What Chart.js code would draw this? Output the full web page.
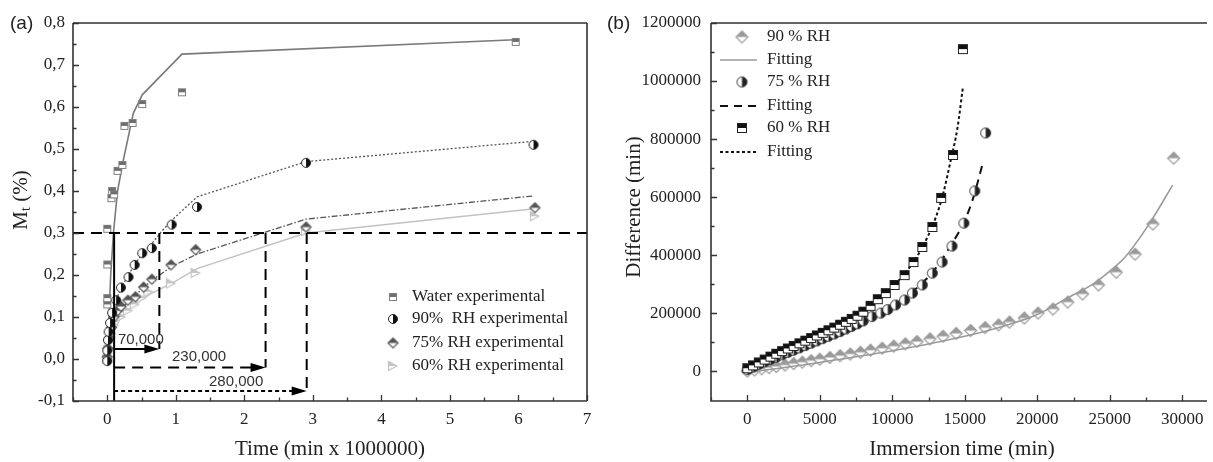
<!DOCTYPE html>
<html>
<head>
<meta charset="utf-8">
<script src="https://cdn.jsdelivr.net/npm/chart.js@4.4.0/dist/chart.umd.min.js"></script>
<style>
html, body { margin: 0; padding: 0; background: #fff; }
#wrap { position: relative; width: 1213px; height: 462px; overflow: hidden; }
canvas { position: absolute; top: 0; }
#chartA { left: 0; }
#chartB { left: 600px; }
</style>
</head>
<body>
<div id="wrap">
  <canvas id="chartA" width="600" height="462"></canvas>
  <canvas id="chartB" width="613" height="462"></canvas>
</div>
<script>
// ---------- Panel (a): uptake M_t (%) vs time (min x 1000000) ----------
const waterT = [0, 0, 0, 0, 0.06, 0.07, 0.1, 0.15, 0.22, 0.25, 0.37, 0.51, 1.09, 5.96];
const waterM = [0.13, 0.145, 0.225, 0.31, 0.383, 0.40, 0.392, 0.448, 0.462, 0.555, 0.562, 0.607, 0.635, 0.755];
const waterFitT = [0, 0.05, 0.09, 0.15, 0.235, 0.38, 0.51, 1.09, 5.95];
const waterFitM = [0, 0.2, 0.3, 0.4, 0.474, 0.585, 0.629, 0.726, 0.76];

const rh90T = [0, 0, 0.01, 0.02, 0.04, 0.07, 0.13, 0.2, 0.31, 0.4, 0.51, 0.65, 0.94, 1.31, 2.9, 6.22];
const rh90M = [-0.005, 0.02, 0.045, 0.065, 0.086, 0.11, 0.14, 0.17, 0.195, 0.224, 0.252, 0.264, 0.32, 0.362, 0.467, 0.51];
const rh90FitT = [0, 0.05, 0.13, 0.2, 0.31, 0.4, 0.51, 0.65, 0.8, 0.94, 1.31, 2.9, 6.2];
const rh90FitM = [0, 0.09, 0.14, 0.17, 0.2, 0.225, 0.25, 0.275, 0.305, 0.33, 0.386, 0.47, 0.518];

const rh75T = [0, 0.01, 0.03, 0.06, 0.1, 0.15, 0.2, 0.3, 0.41, 0.53, 0.65, 0.93, 1.29, 2.9, 6.24];
const rh75M = [0.005, 0.025, 0.05, 0.075, 0.1, 0.115, 0.125, 0.14, 0.148, 0.171, 0.19, 0.224, 0.26, 0.314, 0.36];
const rh75FitT = [0, 0.05, 0.2, 0.43, 0.63, 0.94, 1.31, 2.9, 6.2];
const rh75FitM = [0, 0.07, 0.12, 0.155, 0.185, 0.22, 0.25, 0.333, 0.388];

const rh60T = [0, 0.01, 0.03, 0.06, 0.1, 0.2, 0.3, 0.4, 0.5, 0.6, 0.93, 1.29, 2.9, 6.24];
const rh60M = [0.0, 0.02, 0.04, 0.06, 0.08, 0.1, 0.115, 0.13, 0.145, 0.16, 0.18, 0.205, 0.305, 0.34];
const rh60FitT = [0, 0.05, 0.2, 0.4, 0.63, 0.94, 1.31, 2.9, 6.2];
const rh60FitM = [0, 0.05, 0.1, 0.13, 0.155, 0.18, 0.215, 0.3, 0.357];

const aXMajor = [0, 1, 2, 3, 4, 5, 6, 7];
const aXMinor = [-0.5, 0.5, 1.5, 2.5, 3.5, 4.5, 5.5, 6.5];
const aYMajor = [-0.1, 0, 0.1, 0.2, 0.3, 0.4, 0.5, 0.6, 0.7, 0.8];
const aYMinor = [-0.05, 0.05, 0.15, 0.25, 0.35, 0.45, 0.55, 0.65, 0.75];

// threshold construction (M_t = 0,3)
const thresholdM = 0.3;
const startT = 0.1;
const reachT = [0.76, 2.31, 2.91];
const arrowM = [0.024, -0.02, -0.076];
const reachLabels = ['70,000', '230,000', '280,000'];
const reachLabelT = [0.49, 1.34, 1.88];
const reachLabelM = [0.045, 0.005, -0.055];

const aLegendLabels = ['Water experimental', '90%  RH experimental', '75% RH experimental', '60% RH experimental'];

// ---------- Panel (b): difference (min) vs immersion time (min) ----------
const rh90bT = [0, 500, 1000, 1500, 2000, 2600, 3200, 3800, 4400, 5000, 5700, 6400, 7100, 7800, 8500, 9300, 10100,
  10900, 11700, 12600, 13500, 14400, 15400, 16400, 17330, 18080, 19100, 20050, 21080, 22100, 23120, 24220, 25440,
  26740, 27970, 29400];
const rh90bD = [0, 4000, 8000, 12000, 16000, 21000, 26000, 31000, 36000, 41000, 47000, 53000, 59000, 65000, 72000,
  79000, 86000, 94000, 102000, 111000, 120000, 130000, 140000, 150000, 159000, 169000, 183000, 200000, 214000,
  238000, 266000, 297000, 341000, 403000, 507000, 734000];
const rh90bFitT = [0, 5000, 10000, 15000, 18000, 20000, 22000, 24000, 25000, 26000, 27000, 28000, 29330];
const rh90bFitD = [-5000, 30000, 70000, 120000, 160000, 195000, 250000, 305000, 345000, 390000, 455000, 530000, 641000];

const rh75bT = [0, 400, 800, 1200, 1600, 2000, 2400, 2800, 3200, 3600, 4000, 4400, 4800, 5200, 5600, 6000, 6400,
  6800, 7200, 7600, 8000, 8600, 9210, 9690, 10230, 10850, 11390, 12070, 12760, 13440, 14120, 14940, 15690, 16440];
const rh75bD = [5000, 14000, 23000, 32000, 40000, 48000, 56000, 64000, 72000, 80000, 88000, 96000, 104000, 112000,
  120000, 128000, 136000, 145000, 154000, 163000, 173000, 188000, 200000, 212000, 228000, 245000, 269000, 297000,
  338000, 376000, 431000, 510000, 621000, 821000];
const rh75bFitT = [0, 2000, 4000, 6000, 8000, 10000, 11000, 12000, 13000, 14000, 15000, 15600, 16240];
const rh75bFitD = [0, 45000, 90000, 130000, 175000, 225000, 260000, 300000, 355000, 430000, 520000, 600000, 717000];

const rh60bT = [0, 400, 800, 1200, 1600, 2000, 2400, 2800, 3200, 3600, 4000, 4400, 4800, 5200, 5600, 6000, 6400,
  6800, 7200, 7600, 8000, 8500, 9000, 9550, 10160, 10850, 11460, 12070, 12760, 13370, 14190, 14870];
const rh60bD = [10000, 20000, 30000, 40000, 50000, 60000, 69000, 78000, 87000, 96000, 105000, 114000, 123000, 132000,
  141000, 150000, 160000, 170000, 180000, 191000, 205000, 225000, 248000, 269000, 297000, 331000, 376000, 428000,
  497000, 597000, 745000, 1110000];
const rh60bFitT = [0, 2000, 4000, 6000, 8000, 9000, 10000, 11000, 12000, 13000, 13500, 14000, 14500, 14870];
const rh60bFitD = [5000, 55000, 100000, 148000, 205000, 243000, 290000, 345000, 420000, 530000, 610000, 720000, 840000, 979000];

const bXMajor = [0, 5000, 10000, 15000, 20000, 25000, 30000];
const bXMinor = [-2500, 2500, 7500, 12500, 17500, 22500, 27500];
const bYMajor = [0, 200000, 400000, 600000, 800000, 1000000, 1200000];
const bYMinor = [100000, 300000, 500000, 700000, 900000, 1100000];

const bLegendLabels = ['90 % RH', 'Fitting', '75 % RH', 'Fitting', '60 % RH', 'Fitting'];

// ---------- helpers ----------
Chart.defaults.font.family = 'Liberation Serif';
Chart.defaults.color = '#222';

function pts(xs, ys) {
  return xs.map((x, i) => ({ x: x, y: ys[i] }));
}

function makeMarker(size, draw) {
  const c = document.createElement('canvas');
  c.width = size + 2;
  c.height = size + 2;
  draw(c.getContext('2d'), size);
  return c;
}

function halfSquare(size, fill, stroke) {
  return makeMarker(size, (g, s) => {
    g.fillStyle = '#fff';
    g.fillRect(1, 1, s, s);
    g.fillStyle = fill;
    g.fillRect(1, 1, s, s / 2);
    g.strokeStyle = stroke;
    g.lineWidth = 1;
    g.strokeRect(1.5, 1.5, s - 1, s - 1);
  });
}

function halfCircle(size, fill, stroke) {
  return makeMarker(size, (g, s) => {
    const c = s / 2 + 1, r = s / 2 - 0.5;
    g.beginPath(); g.arc(c, c, r, 0, Math.PI * 2);
    g.fillStyle = '#fff'; g.fill();
    g.beginPath(); g.moveTo(c, c - r); g.arc(c, c, r, -Math.PI / 2, Math.PI / 2); g.closePath();
    g.fillStyle = fill; g.fill();
    g.beginPath(); g.arc(c, c, r, 0, Math.PI * 2);
    g.strokeStyle = stroke; g.lineWidth = 1; g.stroke();
  });
}

function halfDiamond(size, fill, stroke) {
  return makeMarker(size, (g, s) => {
    const c = s / 2 + 1, r = s / 2 - 0.5;
    g.beginPath(); g.moveTo(c, c - r); g.lineTo(c + r, c); g.lineTo(c, c + r); g.lineTo(c - r, c); g.closePath();
    g.fillStyle = '#fff'; g.fill();
    g.strokeStyle = stroke; g.lineWidth = 1.2; g.stroke();
    g.beginPath(); g.moveTo(c, c - r); g.lineTo(c + r, c); g.lineTo(c - r, c); g.closePath();
    g.fillStyle = fill; g.fill();
  });
}

function halfTriangle(size, fill, stroke) {
  return makeMarker(size, (g, s) => {
    const c = s / 2 + 1;
    g.beginPath(); g.moveTo(1.5, 1.5); g.lineTo(s, c); g.lineTo(1.5, s + 0.5); g.closePath();
    g.fillStyle = '#fff'; g.fill();
    g.strokeStyle = stroke; g.lineWidth = 1.2; g.stroke();
    g.beginPath(); g.moveTo(1.5, 1.5); g.lineTo(s, c); g.lineTo(1.5, c); g.closePath();
    g.fillStyle = fill; g.fill();
  });
}

const mkWater = halfSquare(8, '#6e6e6e', '#808080');
const mk90a = halfCircle(10, '#111', '#222');
const mk75a = halfDiamond(11, '#555', '#555');
const mk60a = halfTriangle(10, '#c4c4c4', '#c4c4c4');
const mk90b = halfDiamond(13, '#9a9a9a', '#9a9a9a');
const mk75b = halfCircle(11, '#222', '#333');
const mk60b = halfSquare(10, '#111', '#222');

function markerSet(data, marker) {
  return { data: data, pointStyle: marker, showLine: false, pointRadius: 5 };
}

function fitLine(data, color, width, dash, smooth) {
  return {
    data: data, showLine: true, pointRadius: 0, borderColor: color, borderWidth: width,
    borderDash: dash, fill: false, cubicInterpolationMode: smooth ? 'monotone' : 'default', tension: 0
  };
}

function fixedTicks(values) {
  return (scale) => { scale.ticks = values.slice().sort((a, b) => a - b).map(v => ({ value: v })); };
}

function drawTicksAndFrame(chart, xMajor, yMajor, rightSide) {
  const ctx = chart.ctx, a = chart.chartArea, xs = chart.scales.x, ys = chart.scales.y;
  ctx.save();
  ctx.strokeStyle = '#333';
  ctx.lineWidth = 1.3;
  ctx.setLineDash([]);
  ctx.beginPath();
  xs.ticks.forEach(t => {
    const px = Math.round(xs.getPixelForValue(t.value)) + 0.5;
    const len = xMajor.includes(t.value) ? 6 : 3.5;
    ctx.moveTo(px, a.bottom); ctx.lineTo(px, a.bottom - len);
  });
  ys.ticks.forEach(t => {
    const py = Math.round(ys.getPixelForValue(t.value)) + 0.5;
    const len = yMajor.includes(t.value) ? 6 : 3.5;
    ctx.moveTo(a.left, py); ctx.lineTo(a.left + len, py);
  });
  ctx.stroke();
  ctx.lineWidth = 1.6;
  ctx.beginPath();
  ctx.moveTo(a.left, a.top); ctx.lineTo(a.left, a.bottom); ctx.lineTo(a.right, a.bottom);
  ctx.moveTo(a.left, a.top); ctx.lineTo(a.right, a.top);
  if (rightSide) { ctx.moveTo(a.right, a.top); ctx.lineTo(a.right, a.bottom); }
  ctx.stroke();
  ctx.restore();
}

function scaleOptions(min, max, ticks, labelFn, pad, fitSize, isX) {
  return {
    type: 'linear', min: min, max: max,
    grid: { display: false, drawTicks: false },
    border: { display: false },
    afterBuildTicks: fixedTicks(ticks),
    afterFit: (s) => { if (isX) s.height = fitSize; else s.width = fitSize; },
    ticks: {
      autoSkip: false, maxRotation: 0, padding: pad,
      font: { family: 'Liberation Serif', size: 17 }, color: '#222',
      callback: labelFn
    }
  };
}

// ---------- chart (a) ----------
const panelAPlugin = {
  id: 'panelA',
  afterDatasetsDraw(chart) {
    const ctx = chart.ctx, xs = chart.scales.x, ys = chart.scales.y, a = chart.chartArea;
    ctx.save();
    ctx.strokeStyle = '#000';
    ctx.fillStyle = '#000';
    ctx.lineWidth = 2;
    // horizontal threshold
    const yT = ys.getPixelForValue(thresholdM);
    ctx.setLineDash([11, 7]);
    ctx.beginPath(); ctx.moveTo(a.left, yT); ctx.lineTo(a.right, yT); ctx.stroke();
    // solid start line
    const x0 = xs.getPixelForValue(startT);
    ctx.setLineDash([]);
    ctx.beginPath(); ctx.moveTo(x0, yT); ctx.lineTo(x0, a.bottom); ctx.stroke();
    const arrowDash = [[], [11, 7], [4, 3]];
    reachT.forEach((t, i) => {
      const xe = xs.getPixelForValue(t), ya = ys.getPixelForValue(arrowM[i]);
      ctx.lineWidth = 2;
      ctx.setLineDash([11, 7]);
      ctx.beginPath(); ctx.moveTo(xe, yT); ctx.lineTo(xe, ya); ctx.stroke();
      ctx.setLineDash(arrowDash[i]);
      ctx.beginPath(); ctx.moveTo(x0, ya); ctx.lineTo(xe - 10, ya); ctx.stroke();
      ctx.setLineDash([]);
      ctx.beginPath(); ctx.moveTo(xe, ya); ctx.lineTo(xe - 15, ya - 4.5); ctx.lineTo(xe - 15, ya + 4.5); ctx.closePath(); ctx.fill();
    });
    // labels
    ctx.font = '15px "Liberation Sans"';
    ctx.fillStyle = '#333';
    ctx.textAlign = 'center';
    ctx.textBaseline = 'middle';
    reachLabels.forEach((s, i) => {
      ctx.fillText(s, xs.getPixelForValue(reachLabelT[i]), ys.getPixelForValue(reachLabelM[i]));
    });
    ctx.restore();
  },
  afterDraw(chart) {
    const ctx = chart.ctx;
    drawTicksAndFrame(chart, aXMajor, aYMajor, true);
    ctx.save();
    // legend
    const markers = [mkWater, mk90a, mk75a, mk60a];
    const rows = [297, 319, 343, 366];
    ctx.font = '17px "Liberation Serif"';
    ctx.fillStyle = '#222';
    ctx.textAlign = 'left';
    ctx.textBaseline = 'middle';
    aLegendLabels.forEach((s, i) => {
      const m = markers[i];
      ctx.drawImage(m, 393 - m.width / 2, rows[i] - m.height / 2);
      ctx.fillText(s, 412, rows[i]);
    });
    // panel letter
    ctx.font = '19px "Liberation Sans"';
    ctx.fillText('(a)', 10, 24);
    // x title
    ctx.font = '21px "Liberation Serif"';
    ctx.textAlign = 'center';
    ctx.fillText('Time (min x 1000000)', 330, 449);
    // y title with subscript
    ctx.translate(21, 200);
    ctx.rotate(-Math.PI / 2);
    ctx.textAlign = 'left';
    const w1 = ctx.measureText('M').width;
    ctx.font = '14px "Liberation Serif"';
    const w2 = ctx.measureText('t').width;
    ctx.font = '21px "Liberation Serif"';
    const w3 = ctx.measureText(' (%)').width;
    let x = -(w1 + w2 + w3) / 2;
    ctx.fillText('M', x, 0);
    ctx.font = '14px "Liberation Serif"';
    ctx.fillText('t', x + w1, 5);
    ctx.font = '21px "Liberation Serif"';
    ctx.fillText(' (%)', x + w1 + w2, 0);
    ctx.restore();
  }
};

new Chart(document.getElementById('chartA'), {
  type: 'scatter',
  data: {
    datasets: [
      markerSet(pts(waterT, waterM), mkWater),
      markerSet(pts(rh90T, rh90M), mk90a),
      markerSet(pts(rh75T, rh75M), mk75a),
      markerSet(pts(rh60T, rh60M), mk60a),
      fitLine(pts(waterFitT, waterFitM), '#7a7a7a', 1.6, [], false),
      fitLine(pts(rh90FitT, rh90FitM), '#555', 1.3, [2, 2], false),
      fitLine(pts(rh75FitT, rh75FitM), '#555', 1.3, [6, 2, 1.5, 2], false),
      fitLine(pts(rh60FitT, rh60FitM), '#c2c2c2', 1.4, [], false)
    ]
  },
  options: {
    responsive: false,
    animation: false,
    events: [],
    layout: { padding: { top: 23, right: 13, left: 0, bottom: 0 } },
    plugins: { legend: { display: false }, tooltip: { enabled: false } },
    scales: {
      x: scaleOptions(-0.5, 7, aXMajor.concat(aXMinor),
        (v) => aXMajor.includes(v) ? String(v) : '', 8, 61, true),
      y: scaleOptions(-0.1, 0.8, aYMajor.concat(aYMinor),
        (v) => aYMajor.includes(v) ? v.toFixed(1).replace('.', ',') : '', 8, 73, false)
    }
  },
  plugins: [panelAPlugin]
});

// ---------- chart (b) ----------
const panelBPlugin = {
  id: 'panelB',
  afterDraw(chart) {
    const ctx = chart.ctx;
    drawTicksAndFrame(chart, bXMajor, bYMajor, false);
    ctx.save();
    const rows = [37, 60, 82, 106, 128, 152];
    const items = [
      { m: mk90b }, { line: '#9a9a9a', w: 1.6, dash: [] },
      { m: mk75b }, { line: '#111', w: 2, dash: [8, 6] },
      { m: mk60b }, { line: '#111', w: 2, dash: [3, 2.5] }
    ];
    ctx.font = '17px "Liberation Serif"';
    ctx.fillStyle = '#222';
    ctx.textAlign = 'left';
    ctx.textBaseline = 'middle';
    bLegendLabels.forEach((s, i) => {
      const it = items[i];
      if (it.m) {
        ctx.drawImage(it.m, 142 - it.m.width / 2, rows[i] - it.m.height / 2);
      } else {
        ctx.strokeStyle = it.line; ctx.lineWidth = it.w; ctx.setLineDash(it.dash);
        ctx.beginPath(); ctx.moveTo(120, rows[i]); ctx.lineTo(157, rows[i]); ctx.stroke();
        ctx.setLineDash([]);
      }
      ctx.fillText(s, 167, rows[i]);
    });
    ctx.font = '19px "Liberation Sans"';
    ctx.fillText('(b)', 7, 24);
    ctx.font = '21px "Liberation Serif"';
    ctx.textAlign = 'center';
    ctx.fillText('Immersion time (min)', 362, 449);
    ctx.translate(34, 207);
    ctx.rotate(-Math.PI / 2);
    ctx.fillText('Difference (min)', 0, 0);
    ctx.restore();
  }
};

new Chart(document.getElementById('chartB'), {
  type: 'scatter',
  data: {
    datasets: [
      markerSet(pts(rh60bT, rh60bD), mk60b),
      fitLine(pts(rh60bFitT, rh60bFitD), '#111', 2, [3, 2.5], true),
      markerSet(pts(rh75bT, rh75bD), mk75b),
      fitLine(pts(rh75bFitT, rh75bFitD), '#111', 2, [8, 6], true),
      fitLine(pts(rh90bFitT, rh90bFitD), '#9a9a9a', 1.6, [], true),
      markerSet(pts(rh90bT, rh90bD), mk90b)
    ]
  },
  options: {
    responsive: false,
    animation: false,
    events: [],
    layout: { padding: { top: 23, right: 1, left: 0, bottom: 0 } },
    plugins: { legend: { display: false }, tooltip: { enabled: false } },
    scales: {
      x: scaleOptions(-2500, 31700, bXMajor.concat(bXMinor),
        (v) => bXMajor.includes(v) ? String(v) : '', 8, 61, true),
      y: scaleOptions(-103000, 1200000, bYMajor.concat(bYMinor),
        (v) => bYMajor.includes(v) ? String(v) : '', 10, 111, false)
    }
  },
  plugins: [panelBPlugin]
});
</script>
</body>
</html>
